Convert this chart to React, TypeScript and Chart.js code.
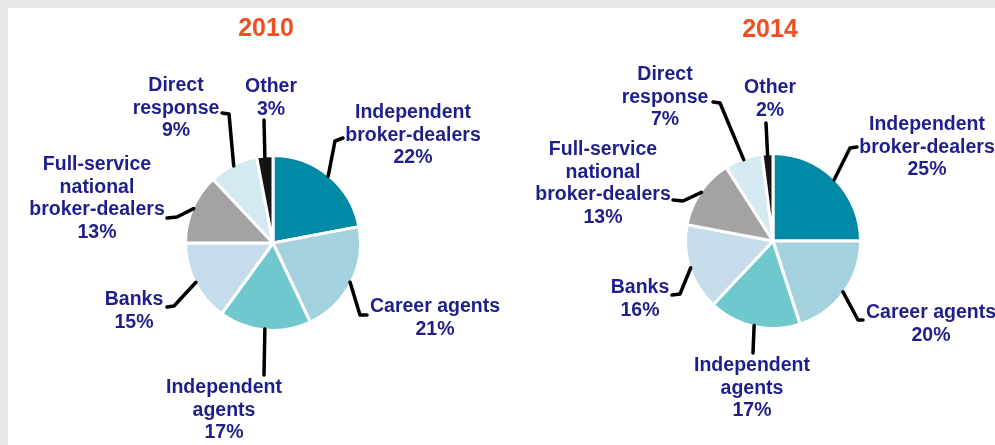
import React, { useEffect, useRef } from "react";
import { Chart, registerables } from "chart.js";

Chart.register(...registerables);

// ---------- data ----------
const years = ["2010", "2014"];
const categories = [
  "Independent broker-dealers",
  "Career agents",
  "Independent agents",
  "Banks",
  "Full-service national broker-dealers",
  "Direct response",
  "Other",
];
const labelLines = [
  ["Independent", "broker-dealers"],
  ["Career agents"],
  ["Independent", "agents"],
  ["Banks"],
  ["Full-service", "national", "broker-dealers"],
  ["Direct", "response"],
  ["Other"],
];
const values2010 = [22, 21, 17, 15, 13, 9, 3];
const values2014 = [25, 20, 17, 16, 13, 7, 2];

// ---------- styles ----------
const sliceColors = ["#008aa6", "#a3d2de", "#70c8cf", "#c6dcea", "#a3a3a3", "#d4e9f1", "#141414"];
const TITLE_COLOR = "#f04e23";
const LABEL_COLOR = "#1f1f8c";
const FONT = '"Liberation Sans", Arial, sans-serif';
const LINE_H = 22.5;
const OUTER_R = 87.5;
const BORDER_W = 3;
const W = 987;
const H = 437;

type Lay = { text: [number, number]; elbow: [number, number]; end: [number, number] };
type Layout = { center: [number, number]; title: [number, number]; labels: Lay[] };

const layout2010: Layout = {
  center: [265, 235],
  title: [-7, -214],
  labels: [
    { text: [140, -130], elbow: [62, -102], end: [70, -105] },
    { text: [162, 64], elbow: [87, 72], end: [94, 72] },
    { text: [-49, 145], elbow: [-9, 132], end: [-9, 132] },
    { text: [-139, 57], elbow: [-99, 63], end: [-106, 64] },
    { text: [-176, -78], elbow: [-96, -26], end: [-106, -25] },
    { text: [-97, -157], elbow: [-44, -129], end: [-51, -130] },
    { text: [-2, -156], elbow: [-9, -123], end: [-9, -123] },
  ],
};

const layout2014: Layout = {
  center: [765, 233],
  title: [-3, -211],
  labels: [
    { text: [154, -116], elbow: [77, -93], end: [84, -94] },
    { text: [158, 72], elbow: [85, 79], end: [90, 79] },
    { text: [-21, 125], elbow: [-20, 112], end: [-20, 112] },
    { text: [-133, 47], elbow: [-93, 53], end: [-101, 54] },
    { text: [-170, -91], elbow: [-90, -40], end: [-100, -41] },
    { text: [-108, -166], elbow: [-53, -138], end: [-60, -139] },
    { text: [-3, -153], elbow: [-7, -118], end: [-7, -118] },
  ],
};

const leaderPlugin = {
  id: "leaderLabels",
  afterDraw(chart: any, _args: any, opts: any) {
    const { ctx } = chart;
    const meta = chart.getDatasetMeta(0);
    const lay: Layout = opts.layout;
    const vals: number[] = opts.values;
    if (!meta.data.length) return;
    const c = meta.data[0].getProps(["x", "y"], true);
    ctx.save();
    ctx.fillStyle = TITLE_COLOR;
    ctx.font = `bold 25px ${FONT}`;
    ctx.textAlign = "center";
    ctx.textBaseline = "middle";
    ctx.fillText(opts.title, c.x + lay.title[0], c.y + lay.title[1]);

    meta.data.forEach((arc: any, i: number) => {
      const p = arc.getProps(["x", "y", "startAngle", "endAngle", "outerRadius"], true);
      const mid = (p.startAngle + p.endAngle) / 2;
      const r = p.outerRadius - 1;
      const sx = p.x + Math.cos(mid) * r;
      const sy = p.y + Math.sin(mid) * r;
      const L = lay.labels[i];
      ctx.beginPath();
      ctx.strokeStyle = "#000";
      ctx.lineWidth = 3.5;
      ctx.lineJoin = "round";
      ctx.lineCap = "round";
      ctx.moveTo(sx, sy);
      ctx.lineTo(p.x + L.elbow[0], p.y + L.elbow[1]);
      ctx.lineTo(p.x + L.end[0], p.y + L.end[1]);
      ctx.stroke();

      ctx.fillStyle = LABEL_COLOR;
      ctx.font = `bold 19.5px ${FONT}`;
      const lines = [...labelLines[i], `${vals[i]}%`];
      lines.forEach((t, k) => {
        ctx.fillText(t, p.x + L.text[0], p.y + L.text[1] + k * LINE_H);
      });
    });
    ctx.restore();
  },
};

function PieChart({ title, values, layout }: { title: string; values: number[]; layout: Layout }) {
  const ref = useRef<HTMLCanvasElement | null>(null);
  useEffect(() => {
    if (!ref.current) return;
    const size = 2 * OUTER_R + BORDER_W;
    const [cx, cy] = layout.center;
    const padLeft = cx - size / 2;
    const padTop = cy - size / 2;
    const padRight = W - (cx + size / 2);
    const padBottom = H - (cy + size / 2);
    const chart = new Chart(ref.current, {
      type: "pie",
      data: {
        labels: categories,
        datasets: [
          {
            data: values,
            backgroundColor: sliceColors,
            borderColor: "#ffffff",
            borderWidth: BORDER_W,
            hoverBorderWidth: BORDER_W,
            hoverOffset: 0,
            offset: 0,
          },
        ],
      },
      options: {
        animation: false,
        responsive: false,
        devicePixelRatio: 1,
        events: [],
        layout: { padding: { left: padLeft, right: padRight, top: padTop, bottom: padBottom } },
        plugins: {
          legend: { display: false },
          tooltip: { enabled: false },
          title: { display: false },
          leaderLabels: { layout, values, title },
        } as any,
      },
      plugins: [leaderPlugin],
    });
    return () => chart.destroy();
  }, []);
  return (
    <canvas
      ref={ref}
      width={W}
      height={H}
      style={{ position: "absolute", left: 0, top: 0, width: W, height: H }}
    />
  );
}

export default function App() {
  useEffect(() => {
    const b = document.body.style;
    b.margin = "8px 0 0 8px";
    b.background = "#e8e8e8";
    b.overflow = "hidden";
  }, []);
  return (
    <div style={{ position: "relative", width: W, height: H, background: "#ffffff", overflow: "hidden" }}>
      <PieChart title={years[0]} values={values2010} layout={layout2010} />
      <PieChart title={years[1]} values={values2014} layout={layout2014} />
    </div>
  );
}
